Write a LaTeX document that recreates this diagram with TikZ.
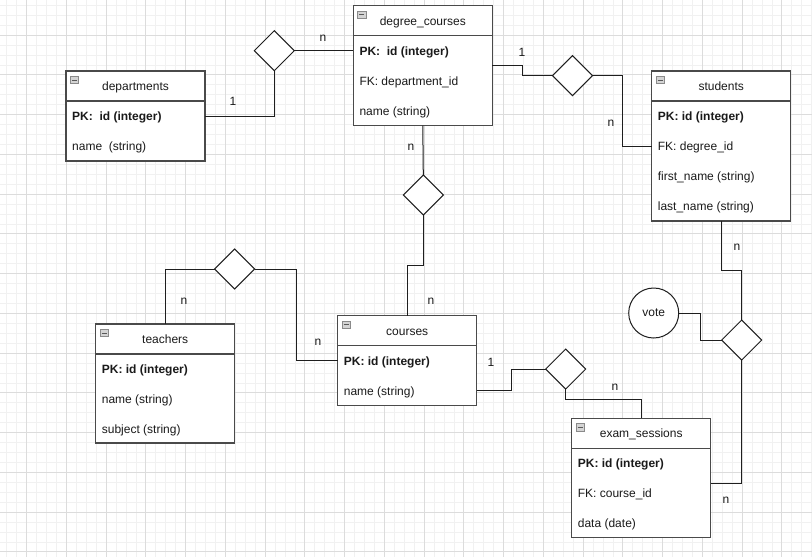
\documentclass[tikz,border=0pt]{standalone}
\usepackage{fontspec}
\setmainfont{Liberation Sans}
\usetikzlibrary{shapes.geometric,calc}
\definecolor{gridmajor}{HTML}{DCDCDC}
\definecolor{gridminor}{HTML}{F1F1F1}
\definecolor{boxline}{HTML}{4A4A4A}
\definecolor{linkline}{HTML}{1E1E1E}
\definecolor{iconfill}{HTML}{D4D4D4}
\definecolor{iconline}{HTML}{8A8A8A}
\definecolor{txt}{HTML}{1A1A1A}
\begin{document}
\begin{tikzpicture}[x=1pt,y=-1pt,
  font=\fontsize{12}{14}\selectfont,
  entbox/.style={draw=boxline, line width=1.2pt, fill=white, anchor=north west,
    minimum width=139pt, inner sep=0pt, outer sep=0pt},
  sepline/.style={draw=boxline, line width=1.2pt},
  enttitle/.style={text=txt, inner sep=0pt, text height=11.2pt, text depth=2.2pt},
  rowtext/.style={text=txt, anchor=west, inner sep=0pt, text height=11.2pt, text depth=2.2pt},
  minusicon/.style={rectangle, draw=iconline, fill=iconfill, line width=0.6pt,
    minimum width=8.5pt, minimum height=7.5pt, inner sep=0pt,
    path picture={\draw[black!65, line width=0.9pt]
      ([xshift=1.6pt]path picture bounding box.west) --
      ([xshift=-1.6pt]path picture bounding box.east);}},
  rel/.style={diamond, draw=linkline, line width=1pt, fill=white, aspect=1,
    minimum width=40pt, minimum height=40pt, inner sep=0pt, outer sep=0pt},
  attr/.style={circle, draw=linkline, line width=1pt, fill=white,
    minimum size=50pt, inner sep=0pt, outer sep=0pt, text=txt},
  link/.style={draw=linkline, line width=1pt},
  card/.style={text=txt, inner sep=0pt, text height=8.5pt, text depth=0pt}
]
% canvas and grid
\useasboundingbox (0,0) rectangle (812,557);
\fill[white] (0,0) rectangle (812,557);
\begin{scope}
  \clip (0,0) rectangle (812,557);
  \foreach \i in {-4,...,82}
    \draw[gridminor, line width=0.6pt] ({26.5+\i*9.9375},0) -- ({26.5+\i*9.9375},557);
  \foreach \i in {-4,...,56}
    \draw[gridminor, line width=0.6pt] (0,{35+\i*9.9375}) -- (812,{35+\i*9.9375});
  \foreach \i in {-1,...,20}
    \draw[gridmajor, line width=0.8pt] ({26.5+\i*39.75},0) -- ({26.5+\i*39.75},557);
  \foreach \i in {-1,...,14}
    \draw[gridmajor, line width=0.8pt] (0,{35+\i*39.75}) -- (812,{35+\i*39.75});
\end{scope}

% ---------- entities ----------
% departments
\node[entbox, minimum height=90pt] (dep) at (66,71) {};
\draw[sepline] ([yshift=-30pt]dep.north west) -- ([yshift=-30pt]dep.north east);
\node[minusicon] (depIcon) at ([xshift=8.5pt,yshift=-9pt]dep.north west) {};
\node[enttitle] (depT) at ([yshift=-15pt]dep.north) {departments};
\node[rowtext] (depPK) at ([xshift=6pt,yshift=-45pt]dep.north west) {\textbf{PK:\ \ id (integer)}};
\node[rowtext] (depName) at ([xshift=6pt,yshift=-75pt]dep.north west) {name\ \ (string)};

% degree_courses
\node[entbox, minimum height=120pt] (deg) at (353.3,5.7) {};
\draw[sepline] ([yshift=-30pt]deg.north west) -- ([yshift=-30pt]deg.north east);
\node[minusicon] (degIcon) at ([xshift=8.5pt,yshift=-9pt]deg.north west) {};
\node[enttitle] (degT) at ([yshift=-15pt]deg.north) {degree\_courses};
\node[rowtext] (degPK) at ([xshift=6pt,yshift=-45pt]deg.north west) {\textbf{PK:\ \ id (integer)}};
\node[rowtext] (degFK) at ([xshift=6pt,yshift=-75pt]deg.north west) {FK: department\_id};
\node[rowtext] (degName) at ([xshift=6pt,yshift=-105pt]deg.north west) {name (string)};

% students
\node[entbox, minimum height=150pt] (stu) at (651.7,71) {};
\draw[sepline] ([yshift=-30pt]stu.north west) -- ([yshift=-30pt]stu.north east);
\node[minusicon] (stuIcon) at ([xshift=8.5pt,yshift=-9pt]stu.north west) {};
\node[enttitle] (stuT) at ([yshift=-15pt]stu.north) {students};
\node[rowtext] (stuPK) at ([xshift=6pt,yshift=-45pt]stu.north west) {\textbf{PK: id (integer)}};
\node[rowtext] (stuFK) at ([xshift=6pt,yshift=-75pt]stu.north west) {FK: degree\_id};
\node[rowtext] (stuFirst) at ([xshift=6pt,yshift=-105pt]stu.north west) {first\_name (string)};
\node[rowtext] (stuLast) at ([xshift=6pt,yshift=-135pt]stu.north west) {last\_name (string)};

% teachers
\node[entbox, minimum height=119pt] (tea) at (95.7,324) {};
\draw[sepline] ([yshift=-30pt]tea.north west) -- ([yshift=-30pt]tea.north east);
\node[minusicon] (teaIcon) at ([xshift=8.5pt,yshift=-9pt]tea.north west) {};
\node[enttitle] (teaT) at ([yshift=-15pt]tea.north) {teachers};
\node[rowtext] (teaPK) at ([xshift=6pt,yshift=-45pt]tea.north west) {\textbf{PK: id (integer)}};
\node[rowtext] (teaName) at ([xshift=6pt,yshift=-75pt]tea.north west) {name (string)};
\node[rowtext] (teaSubj) at ([xshift=6pt,yshift=-105pt]tea.north west) {subject (string)};

% courses
\node[entbox, minimum height=90pt] (crs) at (337.7,315.7) {};
\draw[sepline] ([yshift=-30pt]crs.north west) -- ([yshift=-30pt]crs.north east);
\node[minusicon] (crsIcon) at ([xshift=8.5pt,yshift=-9pt]crs.north west) {};
\node[enttitle] (crsT) at ([yshift=-15pt]crs.north) {courses};
\node[rowtext] (crsPK) at ([xshift=6pt,yshift=-45pt]crs.north west) {\textbf{PK: id (integer)}};
\node[rowtext] (crsName) at ([xshift=6pt,yshift=-75pt]crs.north west) {name (string)};

% exam_sessions
\node[entbox, minimum height=119pt] (exam) at (571.7,418.3) {};
\draw[sepline] ([yshift=-30pt]exam.north west) -- ([yshift=-30pt]exam.north east);
\node[minusicon] (examIcon) at ([xshift=8.5pt,yshift=-9pt]exam.north west) {};
\node[enttitle] (examT) at ([yshift=-15pt]exam.north) {exam\_sessions};
\node[rowtext] (examPK) at ([xshift=6pt,yshift=-45pt]exam.north west) {\textbf{PK: id (integer)}};
\node[rowtext] (examFK) at ([xshift=6pt,yshift=-75pt]exam.north west) {FK: course\_id};
\node[rowtext] (examData) at ([xshift=6pt,yshift=-105pt]exam.north west) {data (date)};

% ---------- relationships ----------
\node[rel] (d1) at (274.3,50.7) {};
\node[rel] (d2) at (572.5,75.7) {};
\node[rel] (d3) at (423.3,195) {};
\node[rel] (d4) at (234.7,269) {};
\node[rel] (d5) at (565.7,369) {};
\node[rel] (d6) at (741.7,340) {};
\node[attr] (vote) at (653.7,313) {vote};

% ---------- connectors ----------
\coordinate (depPKout) at (dep.east |- d1.south);
\draw[link] (dep.east |- depPK) -| (d1.south);
\draw[link] (d1.east) -- (d1.east -| deg.west);

\coordinate (m3) at ($(deg.east)!.5!(d2.west)$);
\draw[link] (deg.east) -| (m3) |- (d2.west);

\coordinate (stuFKin) at (stu.west |- stuFK);
\coordinate (m4) at ($(d2.east)!.5!(stuFKin)$);
\draw[link] (d2.east) -| (m4) |- (stuFKin);

\draw[link] (deg.south) -- (d3.north);
\coordinate (m6) at ($(d3.south)!.5!(crs.north)$);
\draw[link] (d3.south) |- (m6) -| (crs.north);

\draw[link] (d4.west) -| (tea.north);
\coordinate (crsPKin) at (crs.west |- crsPK);
\coordinate (m8) at ($(d4.east)!.5!(crsPKin)$);
\draw[link] (d4.east) -| (m8) |- (crsPKin);

\coordinate (crsNameOut) at (crs.east |- crsName);
\coordinate (m9) at ($(crsNameOut)!.5!(d5.west)$);
\draw[link] (crsNameOut) -| (m9) |- (d5.west);

\coordinate (m10) at ($(d5.south)!.35!(exam.north)$);
\draw[link] (d5.south) |- (m10) -| (exam.north);

\coordinate (m11) at ($(stu.south)!.5!(d6.north)$);
\draw[link] (stu.south) |- (m11) -| (d6.north);

\coordinate (m12) at ($(vote.east)!.5!(d6.west)$);
\draw[link] (vote.east) -| (m12) |- (d6.west);

\coordinate (examIn) at ($(exam.south east)!.456!(exam.north east)$);
\draw[link] (d6.south) |- (examIn);

% ---------- cardinalities ----------
\node[card] (c1) at (233,101) {1};
\node[card] (c2) at (323,37) {n};
\node[card] (c3) at (522,52) {1};
\node[card] (c4) at (611,122) {n};
\node[card] (c5) at (411,146) {n};
\node[card] (c6) at (431,300) {n};
\node[card] (c7) at (184,300) {n};
\node[card] (c8) at (318,341) {n};
\node[card] (c9) at (491,362) {1};
\node[card] (c10) at (615,386) {n};
\node[card] (c11) at (737,246) {n};
\node[card] (c13) at (726,499) {n};
\end{tikzpicture}
\end{document}
